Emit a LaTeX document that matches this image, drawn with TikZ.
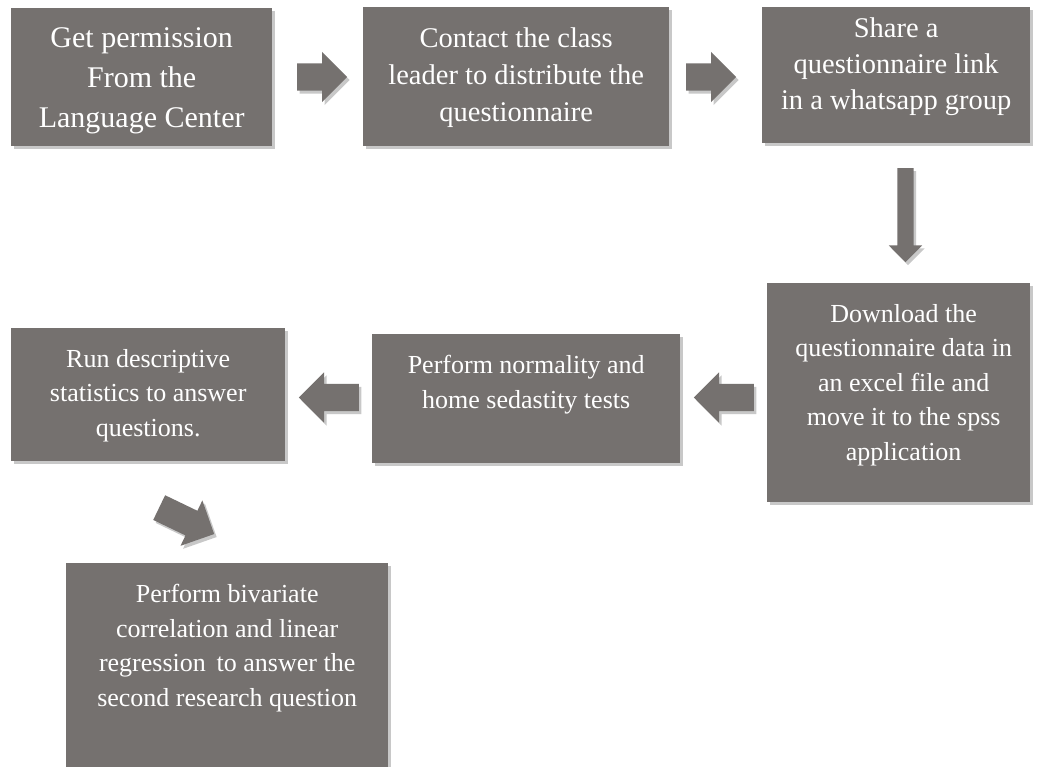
\documentclass[tikz,border=0pt]{standalone}
\usepackage{fontspec}
\setmainfont{Liberation Serif}
\usepackage{xcolor}
\usetikzlibrary{shapes,shapes.arrows,positioning,calc,shadows}
\definecolor{boxgray}{HTML}{75716F}

\begin{document}
\begin{tikzpicture}[
    x=1pt, y=-1pt,
    softshadow/.style={drop shadow={shadow xshift=2.5pt, shadow yshift=-3pt, opacity=0.3, fill=black!70}},
    stepbox/.style={rectangle, fill=boxgray, draw=none, inner sep=0pt, anchor=north west, softshadow},
    steptext/.style={text=white, align=center, inner sep=0pt, font=\fontsize{26}{34.5}\selectfont},
    flowarrow/.style={single arrow, fill=boxgray, draw=none, inner xsep=0pt, inner ysep=13.5pt,
        minimum height=50pt, single arrow head extend=11.5pt, anchor=tail, softshadow}
]
    \clip (0,0) rectangle (1038,767);
    \fill[white] (0,0) rectangle (1038,767);

    % Top row
    \node[stepbox, minimum width=261pt, minimum height=138pt] (get) at (11,8) {};
    \node[stepbox, minimum width=306pt, minimum height=139pt] (contact) at (363,7) {};
    \node[stepbox, minimum width=268pt, minimum height=136pt] (share) at (762,7) {};

    % Middle row
    \node[stepbox, minimum width=263pt, minimum height=219pt] (download) at (767,283) {};
    \node[stepbox, minimum width=308pt, minimum height=129pt] (normality) at (372,334) {};
    \node[stepbox, minimum width=274pt, minimum height=133pt] (descriptive) at (11,328) {};

    % Bottom box (runs past the page edge)
    \node[stepbox, minimum width=322pt, minimum height=230pt] (bivariate) at (66,563) {};

    % Texts
    \node[steptext, font=\fontsize{30}{40}\selectfont, below=19pt of get.north] (gettext)
        {Get permission\\From the\\Language Center};
    \node[steptext, font=\fontsize{28.5}{37}\selectfont, below=21pt of contact.north] (contacttext)
        {Contact the class\\leader to distribute the\\questionnaire};
    \node[steptext, font=\fontsize{28.5}{36}\selectfont, below=11pt of share.north] (sharetext)
        {Share a\\questionnaire link\\in a whatsapp group};
    \node[steptext, below=21pt of download.north, xshift=5pt] (downloadtext)
        {Download the\\questionnaire data in\\an excel file and\\move it to the spss\\application};
    \node[steptext, below=21pt of normality.north] (normalitytext)
        {Perform normality and\\home sedastity tests};
    \node[steptext, below=21pt of descriptive.north] (descriptivetext)
        {Run descriptive\\statistics to answer\\questions.};
    \node[steptext, below=21pt of bivariate.north] (bivariatetext)
        {Perform bivariate\\correlation and linear\\regression\, to answer the\\second research question};

    % Block arrows
    \node[flowarrow] (a1) at (297,77) {};
    \node[flowarrow] (a2) at (686,77) {};
    \node[flowarrow, rotate=-90, inner ysep=8pt, minimum height=94pt,
          single arrow head extend=8.5pt] (a3) at (905.5,168) {};
    \node[flowarrow, rotate=180, minimum height=60pt] (a4) at (754,397.5) {};
    \node[flowarrow, rotate=180, minimum height=60pt] (a5) at (359,397.5) {};
    \node[flowarrow, rotate=-25.7, minimum height=61pt] (a6) at (159,507.5) {};
\end{tikzpicture}
\end{document}
